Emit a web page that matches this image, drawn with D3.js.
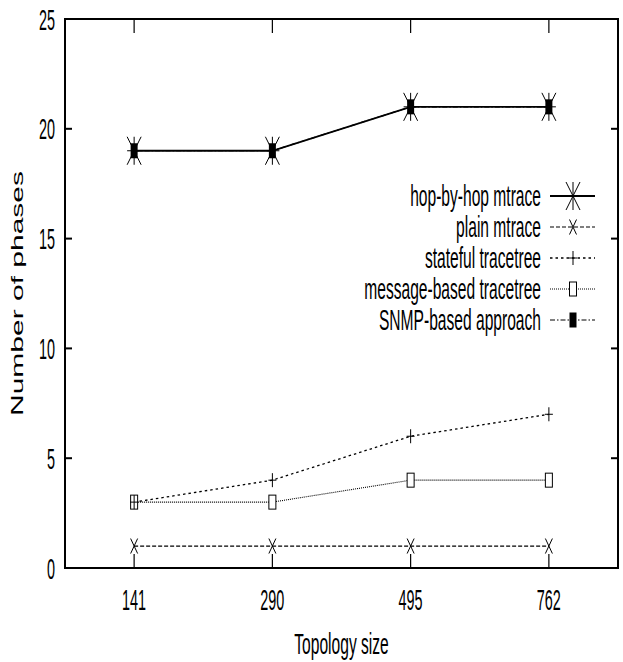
<!DOCTYPE html>
<meta charset="utf-8">

<!-- Load d3.js -->
<script src="https://d3js.org/d3.v7.min.js"></script>

<style type="text/css">
  body { margin: 0; background: #fff; }
  text { font-family: "Liberation Sans", Arial, sans-serif; fill: #000; }
</style>

<!-- Create a div where the graph will take place -->
<div id="my_dataviz"></div>

<script>

// topology sizes on the x axis
let sizes = ["141", "290", "495", "762"];

// number of phases for each approach
let hopByHop = [19, 19, 21, 21];
let plainMtrace = [1, 1, 1, 1];
let statefulTracetree = [3, 4, 6, 7];
let messageTracetree = [3, 3, 4, 4];
let snmpApproach = [19, 19, 21, 21];

let seriesNames = ["hop-by-hop mtrace", "plain mtrace", "stateful tracetree",
                   "message-based tracetree", "SNMP-based approach"];

let yTicks = [0, 5, 10, 15, 20, 25];

// the picture is squeezed horizontally, so all text is too
let sxNum = 0.48, sxText = 0.52;

// set the dimensions of the graph
let W = 623, H = 662;
let plotLeft = 65, plotRight = 618, plotTop = 19, plotBottom = 568;

let svg = d3.select("#my_dataviz")
  .append("svg")
  .attr("width", W)
  .attr("height", H);

let x = d3.scalePoint()
  .domain(sizes)
  .range([plotLeft, plotRight])
  .padding(0.5);

let y = d3.scaleLinear()
  .domain([0, 25])
  .range([plotBottom, plotTop]);

// ---- markers (half width, half height: taller than wide)
function star(g, cx, cy) {
  let p = d3.path();
  p.moveTo(cx - 7, cy - 14); p.lineTo(cx + 7, cy + 14);
  p.moveTo(cx + 7, cy - 14); p.lineTo(cx - 7, cy + 14);
  p.moveTo(cx, cy - 14); p.lineTo(cx, cy + 14);
  p.moveTo(cx - 7, cy); p.lineTo(cx + 7, cy);
  g.append("path").attr("d", p.toString()).attr("stroke", "#000").attr("stroke-width", 1).attr("fill", "none");
}
function cross(g, cx, cy) {
  let p = d3.path();
  p.moveTo(cx - 3.5, cy - 7.5); p.lineTo(cx + 3.5, cy + 7.5);
  p.moveTo(cx + 3.5, cy - 7.5); p.lineTo(cx - 3.5, cy + 7.5);
  g.append("path").attr("d", p.toString()).attr("stroke", "#000").attr("stroke-width", 1).attr("fill", "none");
}
function plus(g, cx, cy) {
  let p = d3.path();
  p.moveTo(cx - 4, cy); p.lineTo(cx + 4, cy);
  p.moveTo(cx, cy - 7); p.lineTo(cx, cy + 7);
  g.append("path").attr("d", p.toString()).attr("stroke", "#000").attr("stroke-width", 1).attr("fill", "none");
}
function openBox(g, cx, cy) {
  g.append("rect").attr("x", cx - 3.5).attr("y", cy - 7).attr("width", 7).attr("height", 14)
    .attr("fill", "#fff").attr("stroke", "#000").attr("stroke-width", 1);
}
function fullBox(g, cx, cy) {
  g.append("rect").attr("x", cx - 3.5).attr("y", cy - 7.5).attr("width", 7).attr("height", 15)
    .attr("fill", "#000");
}

let series = [
  {name: seriesNames[0], values: hopByHop, dash: null, width: 1.8, mark: star},
  {name: seriesNames[1], values: plainMtrace, dash: "4,2", width: 1.2, mark: cross},
  {name: seriesNames[2], values: statefulTracetree, dash: "2.5,3", width: 1.3, mark: plus},
  {name: seriesNames[3], values: messageTracetree, dash: "1,1", width: 1.1, mark: openBox},
  {name: seriesNames[4], values: snmpApproach, dash: "5,2,1.5,2", width: 1.2, mark: fullBox}
];

// ---- ticks (inward, on all four sides, like gnuplot)
let axes = svg.append("g");
yTicks.forEach(function(t) {
  axes.append("line").attr("x1", plotLeft).attr("x2", plotLeft + 7).attr("y1", y(t)).attr("y2", y(t))
    .attr("stroke", "#000").attr("stroke-width", 2);
  axes.append("line").attr("x1", plotRight - 7).attr("x2", plotRight).attr("y1", y(t)).attr("y2", y(t))
    .attr("stroke", "#000").attr("stroke-width", 2);
  axes.append("text")
    .attr("transform", "translate(55," + (y(t) + 10.5) + ") scale(" + sxNum + ",1)")
    .attr("text-anchor", "end")
    .style("font-size", "30px")
    .text(t);
});
sizes.forEach(function(s) {
  axes.append("line").attr("x1", x(s)).attr("x2", x(s)).attr("y1", plotBottom).attr("y2", plotBottom - 14)
    .attr("stroke", "#000").attr("stroke-width", 1.2);
  axes.append("line").attr("x1", x(s)).attr("x2", x(s)).attr("y1", plotTop).attr("y2", plotTop + 14)
    .attr("stroke", "#000").attr("stroke-width", 1.2);
  axes.append("text")
    .attr("transform", "translate(" + x(s) + ",610) scale(" + sxNum + ",1)")
    .attr("text-anchor", "middle")
    .style("font-size", "30px")
    .text(s);
});

// ---- lines and points
let lineGen = d3.line()
  .x(function(d, i) { return x(sizes[i]); })
  .y(function(d) { return y(d); });

let plot = svg.append("g");
// draw the SNMP line first so the solid hop-by-hop line sits over it
[4, 3, 2, 1, 0].forEach(function(k) {
  let s = series[k];
  plot.append("path")
    .datum(s.values)
    .attr("fill", "none")
    .attr("stroke", "#000")
    .attr("stroke-width", s.width)
    .attr("stroke-dasharray", s.dash)
    .attr("d", lineGen);
});
[4, 3, 2, 1, 0].forEach(function(k) {
  let s = series[k];
  s.values.forEach(function(v, i) { s.mark(plot, x(sizes[i]), y(v)); });
});

// ---- legend
let legend = svg.append("g");
series.forEach(function(s, i) {
  let ly = 196 + i * 31;
  legend.append("text")
    .attr("transform", "translate(541," + (ly + 10) + ") scale(" + sxText + ",1)")
    .attr("text-anchor", "end")
    .style("font-size", "30px")
    .text(s.name);
  legend.append("line")
    .attr("x1", 550).attr("x2", 595).attr("y1", ly).attr("y2", ly)
    .attr("stroke", "#000")
    .attr("stroke-width", s.width)
    .attr("stroke-dasharray", s.dash);
  s.mark(legend, 573, ly);
});

// ---- frame
svg.append("rect")
  .attr("x", plotLeft).attr("y", plotTop)
  .attr("width", plotRight - plotLeft).attr("height", plotBottom - plotTop)
  .attr("fill", "none").attr("stroke", "#000").attr("stroke-width", 2);

// x axis label
svg.append("text")
  .attr("transform", "translate(" + ((plotLeft + plotRight) / 2) + ",654) scale(" + sxText + ",1)")
  .attr("text-anchor", "middle")
  .style("font-size", "30px")
  .text("Topology size");

// y axis label
svg.append("text")
  .attr("transform", "translate(23," + ((plotTop + plotBottom) / 2) + ") scale(" + sxText + ",1) rotate(-90)")
  .attr("text-anchor", "middle")
  .style("font-size", "30px")
  .text("Number of phases");

</script>
